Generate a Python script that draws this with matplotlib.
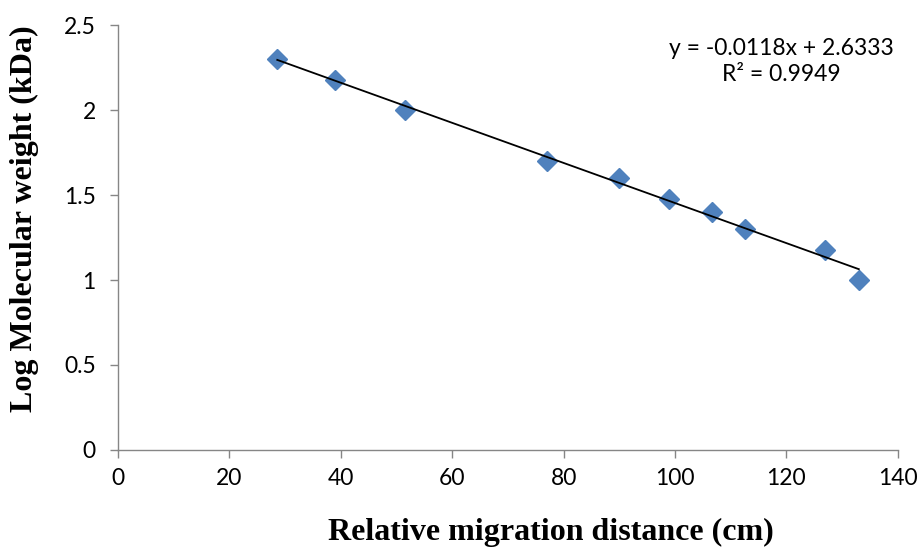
import matplotlib
matplotlib.use("Agg")
import matplotlib.pyplot as plt
import numpy as np

# Data
distance = [28.6, 38.9, 51.6, 77.0, 90.0, 99.0, 106.7, 112.5, 127.0, 133.0]
log_mw = [2.301, 2.176, 2.000, 1.699, 1.602, 1.477, 1.398, 1.301, 1.176, 1.000]
slope = -0.0118
intercept = 2.6333
r2 = 0.9949
x_ticks = [0, 20, 40, 60, 80, 100, 120, 140]
y_ticks = [0, 0.5, 1, 1.5, 2, 2.5]

W, H = 918, 548
fig = plt.figure(figsize=(W / 100, H / 100), dpi=100)
ax = fig.add_axes([0.1285, 0.179, 0.978 - 0.1285, 0.954 - 0.179])

ax.plot(distance, log_mw, linestyle="none", marker="D", markersize=10,
        color="#4F81BD", zorder=3)
xs = np.array([min(distance), max(distance)])
ax.plot(xs, slope * xs + intercept, color="black", linewidth=1.3, zorder=4)

ax.set_xlim(0, 140)
ax.set_ylim(0, 2.5)
ax.set_xticks(x_ticks)
ax.set_yticks(y_ticks)
ax.set_xticklabels([str(v) for v in x_ticks])
ax.set_yticklabels([f"{v:g}" for v in y_ticks])

for lab in ax.get_xticklabels() + ax.get_yticklabels():
    lab.set_fontfamily(["Lato", "DejaVu Sans"])
    lab.set_fontsize(16.5)

for s in ["top", "right"]:
    ax.spines[s].set_visible(False)
for s in ["left", "bottom"]:
    ax.spines[s].set_color("#868686")
    ax.spines[s].set_linewidth(1.0)
ax.tick_params(axis="both", direction="out", length=6, color="#868686", width=1.0)
ax.tick_params(axis="x", pad=7)
ax.tick_params(axis="y", pad=10)

fig.text(551 / W, 1 - 540 / H, "Relative migration distance (cm)",
         fontfamily="Liberation Serif", fontweight="bold", fontsize=23,
         ha="center", va="baseline")
fig.text(24 / W, 1 - 219 / H, "Log Molecular weight (kDa)",
         fontfamily="Liberation Serif", fontweight="bold", fontsize=23,
         ha="center", va="center", rotation=90)

ax.text(0.851, 0.915, f"y = {slope}x + {intercept}\nR² = {r2}", transform=ax.transAxes,
        ha="center", va="center", fontfamily="Lato", fontsize=16.5, linespacing=1.3)

fig.savefig("out.png", dpi=100)
